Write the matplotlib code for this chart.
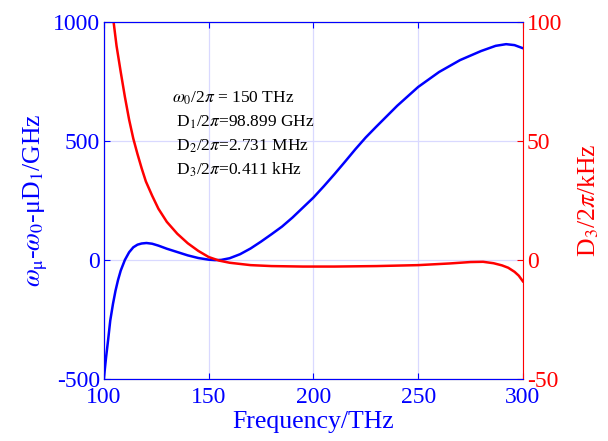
import numpy as np
import matplotlib
matplotlib.use("Agg")
import matplotlib.pyplot as plt

# Integrierte Dispersion (blau, linke Achse)
freq_dint = [100, 101, 102, 103, 104.3, 105.5, 106.7, 108, 110, 112, 114, 116,
             118, 120.3, 123, 126, 130, 135, 140, 145, 150, 153, 156, 160, 165,
             170, 175, 180, 185, 190, 195, 200, 205, 210, 215, 220, 225, 230,
             240, 250, 260, 270, 280, 287, 292, 296, 300]
dint = [-495, -410, -335, -255, -185, -130, -85, -45, 0, 32, 53, 64,
        69, 71, 68, 60, 47, 33, 19, 8, 1, -1, 0, 7, 24,
        48, 77, 108, 140, 178, 220, 262, 310, 360, 412, 465, 515, 560,
        648, 727, 790, 840, 878, 900, 907, 903, 890]

# D3 (rot, rechte Achse)
freq_d3 = [104.6, 106, 108, 110, 112, 114, 116, 118, 120, 123, 126, 130, 135,
           140, 145, 150, 155, 160, 170, 180, 195, 210, 230, 250, 265, 275,
           281, 286, 290, 293, 296, 298, 300]
d3 = [100, 90, 79, 68.5, 59, 51, 44.5, 38.5, 33, 27, 21.5, 16, 11,
      7, 3.8, 1.2, -0.3, -1.2, -2.2, -2.6, -2.8, -2.8, -2.6, -2.2, -1.5, -0.9,
      -0.8, -1.4, -2.3, -3.3, -5, -6.6, -9]

x_ticks = [100, 150, 200, 250, 300]
left_ticks = [-500, 0, 500, 1000]
right_ticks = [-50, 0, 50, 100]

params = [r"$\omega_0$/2$\pi$ = 150 THz",
          r" D$_1$/2$\pi$=98.899 GHz",
          r" D$_2$/2$\pi$=2.731 MHz",
          r" D$_3$/2$\pi$=0.411 kHz"]

plt.rcParams["font.family"] = "Liberation Serif"
plt.rcParams["mathtext.fontset"] = "stix"
plt.rcParams["axes.unicode_minus"] = False

blue = (0.0, 0.0, 1.0)
red = (1.0, 0.0, 0.0)

fig = plt.figure(figsize=(6.08, 4.41), dpi=100)
ax = fig.add_axes([0.171, 0.141, 0.689, 0.809])
ax2 = ax.twinx()

ax.plot(freq_dint, dint, color=blue, lw=1.8, zorder=3)
ax2.plot(freq_d3, d3, color=red, lw=1.8, clip_on=True)

ax.set_xlim(100, 300)
ax.set_ylim(-500, 1000)
ax2.set_ylim(-50, 100)
ax.set_xticks(x_ticks)
ax.set_yticks(left_ticks)
ax2.set_yticks(right_ticks)

ax.grid(True, color=(0.85, 0.85, 1.0), lw=0.9)
ax.set_axisbelow(True)

ax.tick_params(axis="both", direction="in", colors=blue, labelsize=17,
               top=True, length=4, pad=3)
ax.tick_params(axis="x", pad=6)
ax.tick_params(axis="y", right=False)
ax2.tick_params(axis="y", direction="in", colors=red, labelsize=17, length=4, pad=3)

for s in ["left", "top", "bottom"]:
    ax2.spines[s].set_color(blue)
ax2.spines["right"].set_color(red)
ax.spines["right"].set_visible(False)

ax.set_xlabel("Frequency/THz", color=blue, fontsize=18.5, labelpad=2)
ax.set_ylabel(r"$\omega_\mathrm{\mu}$-$\omega_0$-μD$_1$/GHz", color=blue,
              fontsize=18.5, labelpad=2)
ax2.set_ylabel(r"D$_3$/2$\pi$/kHz", color=red, fontsize=18.5, labelpad=10)

for i, t in enumerate(params):
    ax.text(0.162, 0.773 - i * 0.067, t, transform=ax.transAxes, fontsize=12.5,
            color="black", va="baseline")

fig.savefig("out.png", dpi=100)
